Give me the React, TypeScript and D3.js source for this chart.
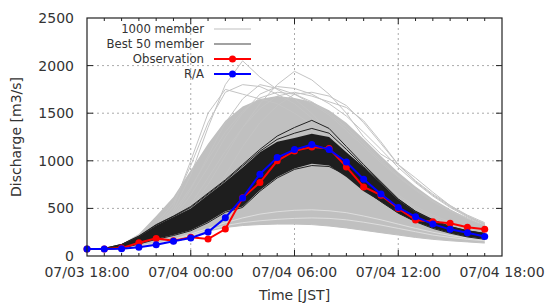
import React from "react"
import * as d3 from "d3"

// hourly time stamps (JST)
const times = [
  "2020-07-03T18:00", "2020-07-03T19:00", "2020-07-03T20:00", "2020-07-03T21:00",
  "2020-07-03T22:00", "2020-07-03T23:00", "2020-07-04T00:00", "2020-07-04T01:00",
  "2020-07-04T02:00", "2020-07-04T03:00", "2020-07-04T04:00", "2020-07-04T05:00",
  "2020-07-04T06:00", "2020-07-04T07:00", "2020-07-04T08:00", "2020-07-04T09:00",
  "2020-07-04T10:00", "2020-07-04T11:00", "2020-07-04T12:00", "2020-07-04T13:00",
  "2020-07-04T14:00", "2020-07-04T15:00", "2020-07-04T16:00", "2020-07-04T17:00",
]

const observation = [73, 73, 83, 140, 185, 160, 196, 178, 283, 611, 772, 1000, 1104, 1145, 1130, 936, 726, 639, 500, 377, 360, 343, 301, 280]
const radarAmedas = [73, 73, 77, 91, 118, 154, 189, 252, 402, 610, 860, 1035, 1118, 1170, 1118, 988, 807, 650, 510, 412, 335, 280, 244, 205]

// 1000 member ensemble: dense envelope + scattered outer members
const ensembleLow = [73, 75, 85, 105, 130, 165, 210, 260, 300, 320, 330, 335, 335, 330, 315, 295, 270, 245, 220, 195, 175, 160, 148, 136]
const ensembleHigh = [73, 85, 125, 230, 420, 620, 900, 1180, 1420, 1570, 1650, 1680, 1660, 1620, 1530, 1400, 1230, 1050, 880, 730, 600, 490, 395, 320]
const outerMembers = [
  [73, 80, 100, 150, 260, 480, 850, 1350, 1800, 2050, 1880, 1750, 1650, 1500, 1300, 1100, 920, 760, 620, 500, 410, 340, 290, 250],
  [73, 78, 95, 130, 200, 320, 500, 750, 1050, 1350, 1600, 1800, 1940, 1850, 1700, 1500, 1250, 1070, 960, 820, 670, 530, 420, 330],
  [73, 80, 100, 150, 250, 420, 700, 1050, 1400, 1650, 1800, 1760, 1700, 1620, 1500, 1350, 1180, 1000, 840, 700, 580, 480, 400, 330],
  [73, 78, 95, 130, 200, 330, 540, 820, 1100, 1350, 1550, 1680, 1720, 1680, 1620, 1560, 1420, 1200, 960, 780, 640, 520, 420, 340],
  [73, 76, 90, 115, 170, 260, 400, 600, 850, 1150, 1400, 1580, 1700, 1720, 1680, 1580, 1400, 1180, 960, 790, 650, 530, 430, 350],
  [73, 80, 105, 160, 280, 460, 720, 1020, 1300, 1520, 1660, 1720, 1700, 1600, 1480, 1320, 1150, 980, 830, 690, 570, 470, 390, 320],
  [73, 82, 115, 190, 330, 560, 950, 1400, 1720, 1800, 1780, 1700, 1600, 1450, 1280, 1100, 930, 780, 640, 520, 430, 360, 300, 260],
  [73, 80, 110, 170, 300, 520, 1000, 1500, 1750, 1700, 1650, 1600, 1500, 1380, 1220, 1050, 880, 740, 610, 500, 410, 340, 290, 250],
  [73, 79, 100, 145, 240, 400, 640, 930, 1250, 1500, 1700, 1780, 1760, 1700, 1600, 1470, 1300, 1120, 930, 770, 630, 510, 410, 335],
]
// pale streaks in the low part of the ensemble
const lowStreaks = [
  [73, 75, 85, 100, 125, 165, 215, 270, 320, 350, 370, 385, 395, 400, 395, 380, 355, 325, 290, 255, 220, 195, 175, 160],
  [73, 76, 88, 108, 135, 175, 230, 290, 350, 400, 440, 465, 480, 485, 475, 455, 420, 380, 335, 290, 250, 215, 190, 170],
]

// best 50 members: envelope + edge members
const bestLow = [73, 74, 82, 128, 178, 220, 270, 360, 470, 520, 690, 830, 920, 970, 950, 830, 680, 570, 450, 360, 293, 241, 202, 178]
const bestHigh = [73, 80, 120, 205, 320, 410, 500, 640, 780, 930, 1090, 1200, 1240, 1285, 1250, 1090, 935, 765, 590, 465, 377, 307, 265, 241]
const bestMembers = [
  [73, 80, 122, 210, 330, 420, 520, 660, 800, 960, 1120, 1260, 1350, 1425, 1340, 1150, 960, 780, 600, 470, 380, 310, 265, 235],
  [73, 80, 121, 207, 325, 415, 510, 650, 790, 945, 1100, 1225, 1290, 1340, 1290, 1120, 940, 770, 595, 468, 378, 308, 265, 238],
  [73, 74, 80, 125, 175, 215, 265, 350, 460, 510, 680, 820, 910, 950, 940, 850, 700, 570, 450, 360, 290, 240, 200, 175],
]

const yTicks = [0, 500, 1000, 1500, 2000, 2500]

const legendItems = [
  { label: "1000 member", color: "#c0c0c0", marker: false },
  { label: "Best 50 member", color: "#444444", marker: false },
  { label: "Observation", color: "#ff0000", marker: true },
  { label: "R/A", color: "#0000ff", marker: true },
]

export default function App() {
  const width = 548
  const height = 307
  const margin = { top: 18, right: 46, bottom: 51, left: 87 }
  const plotW = width - margin.left - margin.right
  const plotH = height - margin.top - margin.bottom

  const parse = d3.timeParse("%Y-%m-%dT%H:%M")
  const dates = times.map(t => parse(t) as Date)

  const x = d3
    .scaleTime()
    .domain([parse("2020-07-03T18:00") as Date, parse("2020-07-04T18:00") as Date])
    .range([0, plotW])
  const y = d3.scaleLinear().domain([0, 2500]).range([plotH, 0])

  const line = d3
    .line<number>()
    .x((_, i) => x(dates[i]))
    .y(d => y(d))

  const band = (lo: number[], hi: number[]) =>
    d3
      .area<number>()
      .x((_, i) => x(dates[i]))
      .y0((_, i) => y(lo[i]))
      .y1(d => y(d))(hi) || ""

  const majorTicks = x.ticks(d3.timeHour.every(6) as d3.TimeInterval)
  const minorTicks = x.ticks(d3.timeHour.every(1) as d3.TimeInterval)
  const fmt = d3.timeFormat("%m/%d %H:%M")

  const font = "DejaVu Sans, sans-serif"
  const textColor = "#333"

  return (
    <svg width={width} height={height} style={{ position: "absolute", left: 0, top: 0 }}>
      <rect width={width} height={height} fill="#fff" />
      <g transform={`translate(${margin.left},${margin.top})`}>
        {/* grid */}
        {yTicks.slice(1, -1).map(t => (
          <line key={"gy" + t} x1={0} x2={plotW} y1={y(t)} y2={y(t)} stroke="#aaa" strokeDasharray="2,3" />
        ))}
        {majorTicks.slice(1, -1).map(t => (
          <line key={"gx" + t.getTime()} x1={x(t)} x2={x(t)} y1={0} y2={plotH} stroke="#aaa" strokeDasharray="2,3" />
        ))}

        {/* 1000 member ensemble */}
        <path d={band(ensembleLow, ensembleHigh)} fill="#c0c0c0" />
        {outerMembers.map((m, i) => (
          <path key={"om" + i} d={line(m) || ""} fill="none" stroke="#c4c4c4" strokeWidth={1} />
        ))}
        <path d={line(ensembleLow) || ""} fill="none" stroke="#c0c0c0" strokeWidth={1} />
        {lowStreaks.map((m, i) => (
          <path key={"ls" + i} d={line(m) || ""} fill="none" stroke="#e4e4e4" strokeWidth={0.8} />
        ))}

        {/* best 50 members */}
        <path d={band(bestLow, bestHigh)} fill="#1e1e1e" />
        {bestMembers.map((m, i) => (
          <path key={"bm" + i} d={line(m) || ""} fill="none" stroke="#222" strokeWidth={1} />
        ))}

        {/* observation */}
        <path d={line(observation) || ""} fill="none" stroke="#ff0000" strokeWidth={2} />
        {observation.map((v, i) => (
          <circle key={"o" + i} cx={x(dates[i])} cy={y(v)} r={3.5} fill="#ff0000" />
        ))}

        {/* R/A */}
        <path d={line(radarAmedas) || ""} fill="none" stroke="#0000ff" strokeWidth={2} />
        {radarAmedas.map((v, i) => (
          <circle key={"r" + i} cx={x(dates[i])} cy={y(v)} r={3.5} fill="#0000ff" />
        ))}

        {/* frame */}
        <rect x={0} y={0} width={plotW} height={plotH} fill="none" stroke="#222" strokeWidth={1.2} />

        {/* ticks */}
        {yTicks.slice(1, -1).map(t => (
          <g key={"ty" + t}>
            <line x1={0} x2={6} y1={y(t)} y2={y(t)} stroke="#222" />
            <line x1={plotW} x2={plotW - 6} y1={y(t)} y2={y(t)} stroke="#222" />
          </g>
        ))}
        {minorTicks.slice(1, -1).map(t => {
          const major = t.getHours() % 6 === 0
          const len = major ? 6 : 3
          return (
            <g key={"tx" + t.getTime()}>
              <line x1={x(t)} x2={x(t)} y1={plotH} y2={plotH - len} stroke="#222" />
              <line x1={x(t)} x2={x(t)} y1={0} y2={len} stroke="#222" />
            </g>
          )
        })}

        {/* tick labels */}
        {yTicks.map(t => (
          <text key={"ly" + t} x={-13} y={y(t)} dy="0.36em" textAnchor="end" fontFamily={font} fontSize={14} fill={textColor}>
            {t}
          </text>
        ))}
        {majorTicks.map(t => (
          <text key={"lx" + t.getTime()} x={x(t)} y={plotH + 21} textAnchor="middle" fontFamily={font} fontSize={14} fill={textColor}>
            {fmt(t)}
          </text>
        ))}

        {/* axis titles */}
        <text x={plotW / 2} y={plotH + 44} textAnchor="middle" fontFamily={font} fontSize={14} fill={textColor}>
          Time [JST]
        </text>
        <text
          transform={`translate(${-66},${plotH / 2}) rotate(-90)`}
          textAnchor="middle"
          fontFamily={font}
          fontSize={14}
          fill={textColor}
        >
          Discharge [m3/s]
        </text>

        {/* legend */}
        {legendItems.map((d, i) => {
          const ly = 11 + i * 15
          return (
            <g key={"lg" + i} transform={`translate(0,${ly})`}>
              <text x={117} y={0} dy="0.35em" textAnchor="end" fontFamily={font} fontSize={11.7} fill={textColor}>
                {d.label}
              </text>
              <line x1={127} x2={164} y1={0} y2={0} stroke={d.color} strokeWidth={d.marker ? 2 : 1.2} />
              {d.marker && <circle cx={145.5} cy={0} r={3.5} fill={d.color} />}
            </g>
          )
        })}
      </g>
    </svg>
  )
}
